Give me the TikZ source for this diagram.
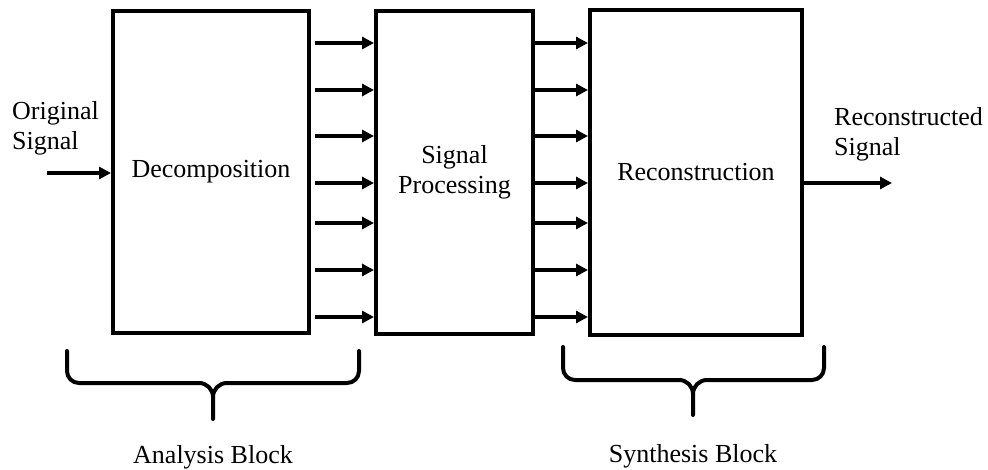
\documentclass[tikz,border=0pt]{standalone}
\usepackage{fontspec}
\setmainfont{Liberation Serif}
\usetikzlibrary{arrows.meta}
\begin{document}
\begin{tikzpicture}[x=1pt,y=-1pt,
  font=\fontsize{26}{30}\selectfont,
  block/.style={draw,line width=4pt,inner sep=0pt,align=center},
  arr/.style={line width=3.2pt,-{Triangle[length=12pt,width=12pt]}},
  brace/.style={line width=4pt,line cap=round,line join=round},
  txt/.style={inner sep=0pt,align=left}]
\useasboundingbox (0,0) rectangle (988,469);

% processing blocks
\node[block,minimum width=196pt,minimum height=322pt] (dec) at (211,172) {Decomposition};
\node[block,minimum width=157pt,minimum height=323pt] (sp) at (454.5,172) {Signal\\Processing};
\node[block,minimum width=212pt,minimum height=325pt] (rec) at (696,172.5) {Reconstruction};

% parallel sub-band channels
\foreach \y in {43,90,136,183,223,270,317}{
  \draw[arr,shorten <=4pt] (dec.east |- 0,\y) -- (sp.west |- 0,\y);
  \draw[arr] (sp.east |- 0,\y) -- (rec.west |- 0,\y);
}

% input and output
\coordinate (in) at (47,173);
\coordinate (out) at (892,183);
\draw[arr] (in) -- (dec.west |- in);
\draw[arr] (rec.east |- out) -- (out);
\node[txt,anchor=west] (inlbl) at (12,128) {Original\\Signal};
\node[txt,anchor=west] (outlbl) at (834,134) {Reconstructed\\Signal};

% grouping braces
\draw[brace] (67,351) -- (67,371) to[out=-90,in=180] (79,383) -- (199,383)
  to[out=0,in=90] (213,397) -- (213,419);
\draw[brace] (359,351) -- (359,371) to[out=-90,in=0] (347,383) -- (227,383)
  to[out=180,in=90] (213,397);
\draw[brace] (563,347) -- (563,368) to[out=-90,in=180] (575,380) -- (679,380)
  to[out=0,in=90] (693,394) -- (693,415);
\draw[brace] (824,347) -- (824,368) to[out=-90,in=0] (812,380) -- (707,380)
  to[out=180,in=90] (693,394);

\node[anchor=base,inner sep=0pt] (ana) at (213,463) {Analysis Block};
\node[anchor=base,inner sep=0pt] (syn) at (693,462) {Synthesis Block};
\end{tikzpicture}
\end{document}
